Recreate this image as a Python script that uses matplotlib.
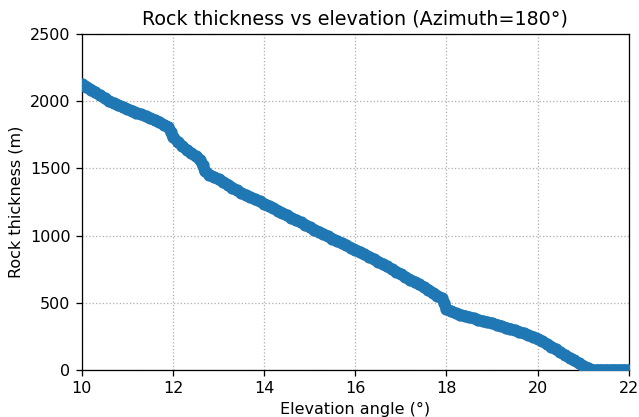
import matplotlib
matplotlib.use("Agg")
import matplotlib.pyplot as plt

# elevation angle (deg) and rock thickness (m)
elev = [10.0, 10.1, 10.2, 10.3, 10.4, 10.5, 10.6, 10.7, 10.8, 10.9,
        11.0, 11.1, 11.2, 11.3, 11.4, 11.5, 11.6, 11.7, 11.8, 11.9, 11.95,
        12.0, 12.1, 12.2, 12.3, 12.4, 12.5, 12.6, 12.65,
        12.7, 12.8, 12.9, 13.0, 13.1, 13.2, 13.3, 13.4, 13.5, 13.6, 13.7, 13.8, 13.9,
        14.0, 14.1, 14.2, 14.3, 14.4, 14.5, 14.6, 14.7, 14.8, 14.9,
        15.0, 15.1, 15.2, 15.3, 15.4, 15.5, 15.6, 15.7, 15.8, 15.9,
        16.0, 16.1, 16.2, 16.3, 16.4, 16.5, 16.6, 16.7, 16.8, 16.9,
        17.0, 17.1, 17.2, 17.3, 17.4, 17.5, 17.6, 17.7, 17.8, 17.9, 17.95,
        18.0, 18.1, 18.2, 18.3, 18.4, 18.5, 18.6, 18.7, 18.8, 18.9,
        19.0, 19.1, 19.2, 19.3, 19.4, 19.5, 19.6, 19.7, 19.8, 19.9,
        20.0, 20.1, 20.2, 20.3, 20.4, 20.5, 20.6, 20.7, 20.8, 20.9,
        21.0, 21.1, 21.2, 21.3, 21.4, 21.5, 21.6, 21.7, 21.8, 21.9, 22.0]
thick = [2130, 2110, 2088, 2066, 2044, 2022, 2000, 1985, 1971, 1957,
         1943, 1930, 1916, 1902, 1888, 1874, 1860, 1846, 1825, 1808, 1775,
         1735, 1700, 1668, 1638, 1614, 1590, 1566, 1525,
         1480, 1455, 1435, 1418, 1400, 1380, 1358, 1337, 1318, 1301, 1286, 1270, 1254,
         1238, 1222, 1206, 1186, 1168, 1150, 1133, 1116, 1099, 1082,
         1062, 1045, 1028, 1011, 994, 977, 961, 944, 927, 911,
         895, 878, 861, 843, 825, 807, 789, 770, 750, 732,
         712, 692, 673, 655, 636, 617, 597, 575, 553, 533, 500,
         452, 435, 422, 412, 402, 392, 383, 372, 363, 355,
         347, 337, 327, 315, 305, 295, 283, 271, 258, 246,
         232, 214, 193, 174, 152, 131, 110, 90, 70, 50,
         32, 15, 0, 0, 0, 0, 0, 0, 0, 0, 0]

fig, ax = plt.subplots(figsize=(639 / 115, 417 / 115), dpi=115)
fig.subplots_adjust(left=0.128, right=0.984, top=0.918, bottom=0.113)

# thick line underneath so the dense points read as one band
ax.plot(elev, thick, color="C0", lw=7, solid_capstyle="round", solid_joinstyle="round")
ax.scatter(elev, thick, s=45, color="C0", zorder=3)
ax.set_xlim(10, 22)
ax.set_ylim(0, 2500)
ax.set_xlabel("Elevation angle (°)")
ax.set_ylabel("Rock thickness (m)")
ax.set_title("Rock thickness vs elevation (Azimuth=180°)")
ax.grid(True, linestyle=":")

fig.savefig("out.png", dpi=115)
